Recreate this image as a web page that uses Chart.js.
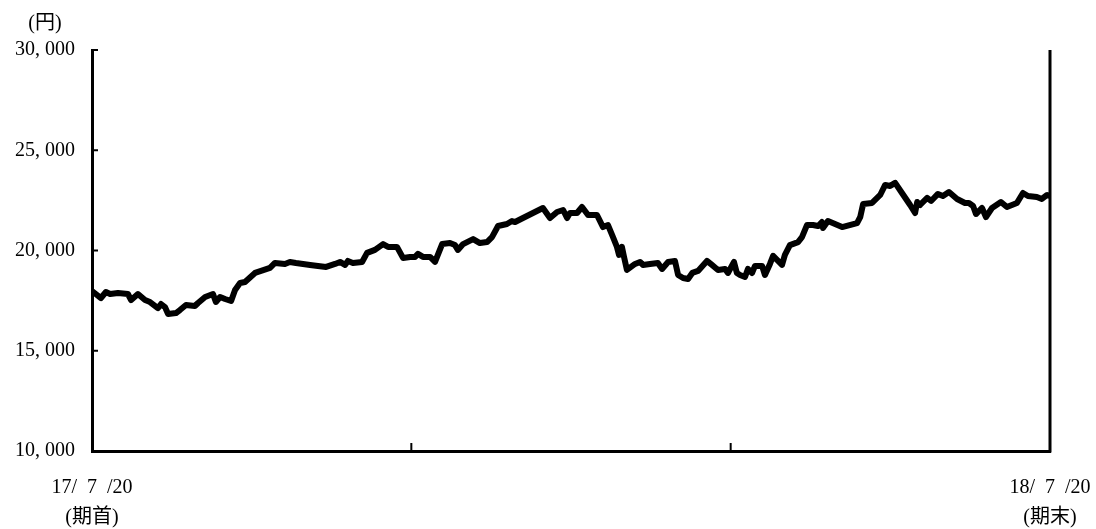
<!DOCTYPE html>
<html>
<head>
<meta charset="utf-8">
<script src="https://cdn.jsdelivr.net/npm/chart.js@4.4.1/dist/chart.umd.min.js"></script>
<style>
html,body{margin:0;padding:0;background:#fff;}
#wrap{width:1096px;height:529px;position:relative;}
</style>
</head>
<body>
<div id="wrap"><canvas id="c" width="1096" height="529"></canvas></div>
<script>
// Days elapsed since 17/7/20 (period start) and fund price (円)
const days = [0,3.4,5.3,6.9,9.9,13.7,14.9,17.5,20.2,22.1,25.1,26.3,27.8,29.0,32.0,33.5,35.8,39.2,40.4,43.1,46.1,47.2,48.8,50.7,53.0,54.5,56.4,58.3,62.1,64.4,67.8,69.7,73.5,75.4,77.7,80.4,83.1,86.1,89.2,92.6,
94.5,96.4,97.5,99.4,102.9,104.8,107.8,110.9,112.8,116.2,118.5,121.2,123.1,124.2,126.1,128.8,130.7,133.4,136.4,138.3,139.4,141.4,145.2,147.8,150.5,152.4,154.7,158.1,160.0,161.2,164.2,168.0,171.8,174.5,177.2,179.5,181.0,182.1,184.8,186.7,189.0,
192.4,194.7,196.6,198.5,200.0,200.8,201.9,202.7,203.8,206.9,208.8,209.9,212.6,215.6,217.2,219.5,222.1,223.3,225.2,227.1,228.7,230.9,234.3,236.2,238.5,241.2,242.3,244.6,245.7,246.9,248.8,249.9,251.5,252.6,255.3,256.4,258.3,259.5,262.9,264.0,265.9,269.0,270.5,272.4,274.7,
276.6,278.1,278.5,280.4,285.8,291.5,292.7,293.8,297.2,300.3,302.2,304.1,306.0,308.6,311.7,313.6,314.4,315.5,318.2,319.7,322.3,324.2,326.5,329.6,332.6,334.1,335.7,336.8,339.1,340.6,342.9,346.3,348.6,352.4,354.7,356.6,360.0,361.9,363.9,365];
const prices = [17980,17630,17930,17830,17880,17830,17530,17830,17530,17430,17130,17330,17180,16830,16880,17030,17280,17230,17380,17680,17830,17430,17680,17580,17480,18030,18380,18430,18880,18980,19130,19380,19330,19430,19380,19330,19280,19230,19180,19330,
19430,19280,19480,19380,19430,19880,20030,20320,20180,20180,19630,19680,19680,19830,19680,19680,19430,20320,20370,20270,20030,20320,20570,20370,20420,20670,21220,21320,21470,21420,21620,21870,22120,21620,21920,22020,21620,21870,21870,22170,21770,
21770,21170,21270,20670,20180,19780,20180,19680,19030,19330,19430,19280,19330,19380,19080,19430,19480,18780,18630,18580,18880,18980,19480,19280,19030,19080,18880,19430,18880,18780,18680,19080,18880,19230,19230,18780,19330,19730,19280,19780,20270,20420,20670,21270,21270,
21220,21420,21120,21470,21170,21370,21670,22320,22370,22770,23270,23220,23370,22870,22270,21870,22420,22270,22620,22470,22820,22720,22920,22570,22370,22370,22220,21820,22120,21670,22120,22420,22170,22370,22870,22720,22670,22570,22770,22720];
const yTicks = [10000,15000,20000,25000,30000];
const xTickDays = [0, 365/3, 730/3, 365];
const xLabels = {0:['17/  7  /20','(期首)'], 365:['18/  7  /20','(期末)']};
const unitLabel = '(円)';

const FONT = "'Liberation Serif', 'Noto Sans CJK JP', serif";

const extras = {
  id:'extras',
  afterDraw(chart){
    const {ctx, chartArea:a, scales:{x,y}} = chart;
    ctx.save();
    ctx.strokeStyle = '#000';
    // right frame line
    ctx.lineWidth = 3;
    ctx.beginPath(); ctx.moveTo(a.right, a.top); ctx.lineTo(a.right, a.bottom+1.5); ctx.stroke();
    // inner y tick marks
    ctx.lineWidth = 2;
    yTicks.forEach(v=>{
      const py = y.getPixelForValue(v);
      ctx.beginPath(); ctx.moveTo(a.left, py); ctx.lineTo(a.left+6, py); ctx.stroke();
    });
    // inner x tick marks (middle)
    xTickDays.slice(1,-1).forEach(v=>{
      const px = x.getPixelForValue(v);
      ctx.beginPath(); ctx.moveTo(px, a.bottom); ctx.lineTo(px, a.bottom-8); ctx.stroke();
    });
    // unit label
    ctx.fillStyle = '#000';
    ctx.font = '20px ' + FONT;
    ctx.textAlign = 'center';
    ctx.textBaseline = 'middle';
    ctx.fillText(unitLabel, a.left-47, a.top-26);
    ctx.restore();
  }
};

new Chart(document.getElementById('c'), {
  type:'line',
  data:{
    datasets:[{
      data: days.map((d,i)=>({x:d, y:prices[i]})),
      borderColor:'#000',
      borderWidth:6,
      pointRadius:0,
      tension:0,
      borderJoinStyle:'round',
      borderCapStyle:'round'
    }]
  },
  options:{
    responsive:false,
    animation:false,
    devicePixelRatio:1,
    layout:{padding:{left:0,right:46,top:50,bottom:0}},
    plugins:{legend:{display:false}, tooltip:{enabled:false}},
    scales:{
      x:{
        type:'linear', min:0, max:365,
        afterBuildTicks(s){ s.ticks = xTickDays.map(v=>({value:v})); },
        afterFit(s){ s.height = 78; s.paddingLeft = 0; s.paddingRight = 0; },
        grid:{display:true, drawOnChartArea:false, drawTicks:false},
        border:{display:true, color:'#000', width:3},
        ticks:{
          autoSkip:false, maxRotation:0, padding:22, color:'#000',
          font:{family:FONT, size:20, lineHeight:1.5},
          callback(v){ return xLabels[v] || ''; }
        }
      },
      y:{
        min:10000, max:30000,
        afterBuildTicks(s){ s.ticks = yTicks.map(v=>({value:v})); },
        afterFit(s){ s.width = 92; s.paddingTop = 0; s.paddingBottom = 0; },
        grid:{display:true, drawOnChartArea:false, drawTicks:false},
        border:{display:true, color:'#000', width:3},
        ticks:{
          padding:17, color:'#000',
          font:{family:FONT, size:20},
          callback(v){ return v.toLocaleString('en-US').replace(',', ', '); }
        }
      }
    }
  },
  plugins:[extras]
});
</script>
</body>
</html>
